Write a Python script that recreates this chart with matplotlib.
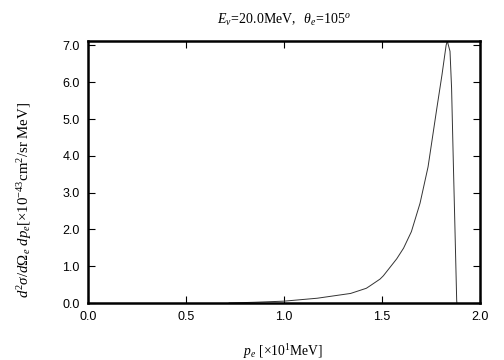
import matplotlib
matplotlib.use("Agg")
import matplotlib.pyplot as plt
from matplotlib.ticker import FormatStrFormatter

plt.rcParams['mathtext.fontset'] = 'custom'
plt.rcParams['mathtext.rm'] = 'Liberation Serif'
plt.rcParams['mathtext.it'] = 'Liberation Serif:italic'
plt.rcParams['mathtext.bf'] = 'Liberation Serif:bold'

# data (p_e in 10 MeV, cross section in 1e-43 cm^2/sr MeV)
p_e = [0.72, 0.85, 1.00, 1.17, 1.34, 1.42, 1.44, 1.49, 1.507, 1.575, 1.61, 1.65,
       1.694, 1.735, 1.78, 1.806, 1.827, 1.833, 1.847, 1.855, 1.864, 1.872,
       1.881, 1.882]
xsec = [0.00, 0.02, 0.05, 0.13, 0.26, 0.40, 0.47, 0.65, 0.74, 1.20, 1.49, 1.94,
        2.71, 3.70, 5.30, 6.20, 7.00, 7.12, 6.84, 5.84, 3.80, 2.07,
        0.08, 0.00]
xticks = [0.0, 0.5, 1.0, 1.5, 2.0]
yticks = [0.0, 1.0, 2.0, 3.0, 4.0, 5.0, 6.0, 7.0]

fig = plt.figure(figsize=(5.04, 3.6), dpi=100)
ax = fig.add_axes([88/504, 1 - 303/360, (480-88)/504, (303-41)/360])
ax.plot(p_e, xsec, color='#333333', lw=0.7)
ax.set_xlim(0, 2.0)
ax.set_ylim(0, 7.12)
ax.set_xticks(xticks)
ax.set_yticks(yticks)
ax.xaxis.set_major_formatter(FormatStrFormatter('%.1f'))
ax.yaxis.set_major_formatter(FormatStrFormatter('%.1f'))
ax.tick_params(direction='in', top=True, right=True, length=5, width=0.8,
               labelsize=9, pad=6)
for lab in ax.get_xticklabels() + ax.get_yticklabels():
    lab.set_fontfamily('Liberation Sans')
for s in ax.spines.values():
    s.set_linewidth(1.8)

fig.text(284/504, 1 - 20/360, r'$E_{\nu}\!=\!\mathrm{20.0MeV,}\ \ \theta_e\!=\!\mathrm{105}^{o}$',
         ha='center', va='center', fontsize=10, family='Liberation Serif')
fig.text(283/504, 1 - 352/360, r'$p_e\ \mathrm{[\times10^{1}MeV]}$',
         ha='center', va='center', fontsize=9.8, family='Liberation Serif')
fig.text(25/504, 1 - 200/360,
         r'$d^2\sigma/d\Omega_e\ dp_e\mathrm{[\times10^{-43}cm^{2}/sr\ MeV]}$',
         ha='center', va='center', rotation=90, fontsize=10.7, family='Liberation Serif')

fig.savefig('out.png', dpi=100)
